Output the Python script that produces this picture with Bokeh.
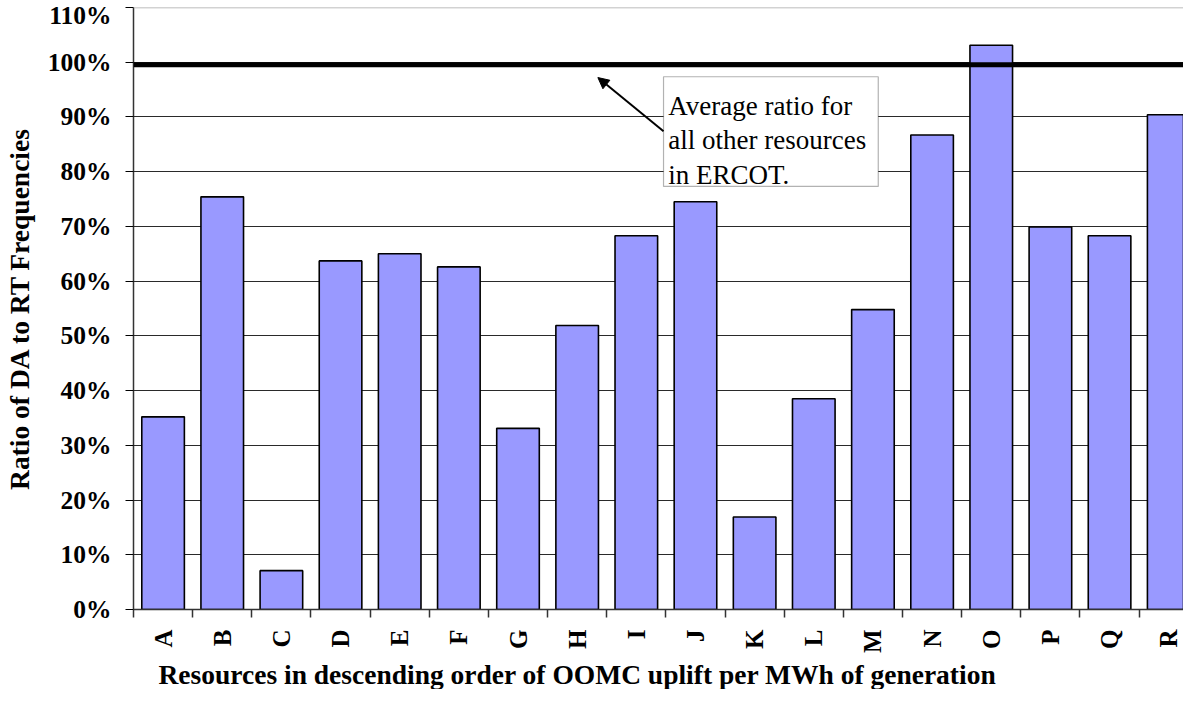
import numpy as np
from bokeh.plotting import figure
from bokeh.models import (Range1d, FixedTicker, Span, BoxAnnotation, Label, Arrow,
                          NormalHead, Title, ColumnDataSource)
from bokeh.embed import file_html
from bokeh.resources import INLINE

categories = ["A", "B", "C", "D", "E", "F", "G", "H", "I", "J", "K", "L", "M", "N", "O", "P", "Q", "R"]
ratios = [35.2, 75.4, 7.1, 63.7, 65.0, 62.6, 33.1, 51.9, 68.3, 74.5, 16.9, 38.5, 54.8, 86.7, 103.1, 69.9, 68.3, 90.4]
average_ratio = 99.55
y_ticks = list(range(0, 111, 10))
note_lines = ["Average ratio for", "all other resources", "in ERCOT."]

FONT = "Liberation Serif"

centers = [i + 0.5 for i in range(len(categories))]
bounds = list(range(len(categories) + 1))
src = ColumnDataSource(dict(x=centers, top=ratios, cat=categories))

p = figure(width=1183, height=689, output_backend="svg", toolbar_location=None,
           x_range=Range1d(0, 17.75), y_range=Range1d(0, 110),
           min_border_left=127, min_border_right=0, min_border_top=7, min_border_bottom=0)
p.outline_line_color = None
p.background_fill_color = "white"

p.vbar(x="x", top="top", width=0.72, bottom=0, source=src,
       fill_color="#9999FF", line_color="black", line_width=1.6)

# grid
p.xgrid.visible = False
p.ygrid.ticker = FixedTicker(ticks=y_ticks[1:-1])
p.ygrid.grid_line_color = "#2a2a2a"
p.ygrid.grid_line_width = 1
p.add_layout(Span(location=y_ticks[-1], dimension="width", line_color="#a6a6a6", line_width=1.5))

# average line
p.add_layout(Span(location=average_ratio, dimension="width", line_color="black", line_width=5))

# y axis
p.yaxis.ticker = FixedTicker(ticks=y_ticks)
p.yaxis.major_label_overrides = {t: f"{t}%" for t in y_ticks}
p.yaxis.major_label_text_font = FONT
p.yaxis.major_label_text_font_style = "bold"
p.yaxis.major_label_text_font_size = "25.5px"
p.yaxis.major_label_text_color = "black"
p.yaxis.major_tick_in = 0
p.yaxis.major_tick_out = 8
p.yaxis.minor_tick_line_color = None
p.yaxis.major_label_standoff = 14
p.yaxis.axis_line_color = "#333333"
p.yaxis.axis_line_width = 1.5
p.yaxis.axis_label = "Ratio of DA to RT Frequencies"
p.yaxis.axis_label_text_font = FONT
p.yaxis.axis_label_text_font_style = "bold"
p.yaxis.axis_label_text_font_size = "27.5px"
p.yaxis.axis_label_text_color = "black"
p.yaxis.axis_label_standoff = 10

# x axis
p.xaxis.ticker = FixedTicker(ticks=centers, minor_ticks=bounds)
p.xaxis.major_label_overrides = {c: l for c, l in zip(centers, categories)}
p.xaxis.major_label_orientation = np.pi / 2
p.xaxis.major_label_text_font = FONT
p.xaxis.major_label_text_font_style = "bold"
p.xaxis.major_label_text_font_size = "25px"
p.xaxis.major_label_text_color = "black"
p.xaxis.major_tick_line_color = None
p.xaxis.major_tick_in = 0
p.xaxis.major_tick_out = 0
p.xaxis.minor_tick_in = 0
p.xaxis.minor_tick_out = 8
p.xaxis.minor_tick_line_color = "#333333"
p.xaxis.minor_tick_line_width = 1.5
p.xaxis.major_label_standoff = 12
p.xaxis.axis_line_color = "#333333"
p.xaxis.axis_line_width = 1.5

xt = Title(text="Resources in descending order of OOMC uplift per MWh of generation",
           align="left", offset=25, text_font=FONT, text_font_style="bold",
           text_font_size="27.5px", text_color="black", standoff=0)
p.add_layout(xt, "below")

# annotation
box = BoxAnnotation(left=8.96, right=12.59, bottom=77.3, top=97.35,
                    fill_color="white", fill_alpha=1.0, line_color="black", line_width=1.2)
p.add_layout(box)
for i, line in enumerate(note_lines):
    p.add_layout(Label(x=9.04, y=92.0 - i * 6.3, text=line, text_font=FONT,
                       text_font_size="27px", text_color="black",
                       text_baseline="alphabetic", text_align="left"))
p.add_layout(Arrow(end=NormalHead(size=11, fill_color="black", line_color="black"),
                   x_start=8.96, y_start=87.4, x_end=7.85, y_end=97.2,
                   line_color="black", line_width=2))

open("out.html", "w").write(file_html(p, INLINE))
